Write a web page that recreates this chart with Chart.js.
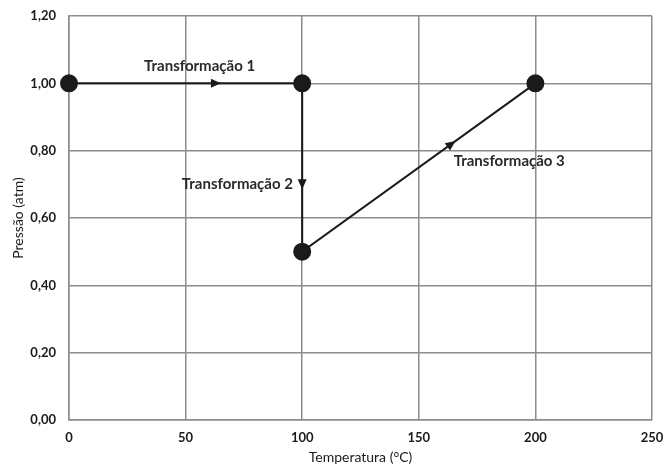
<!DOCTYPE html>
<html>
<head>
<meta charset="utf-8">
<script src="https://cdn.jsdelivr.net/npm/chart.js@4"></script>
<style>
  html, body { margin: 0; padding: 0; background: #fff; }
  #wrap { width: 664px; height: 466px; }
</style>
</head>
<body>
<div id="wrap"><canvas id="grafico"></canvas></div>
<script>
// dados
const temperaturas = [0, 100, 100, 200];
const pressoes = [1.00, 1.00, 0.50, 1.00];
const xTicks = [0, 50, 100, 150, 200, 250];
const yTicks = [0, 0.2, 0.4, 0.6, 0.8, 1.0, 1.2];
// posição da seta em cada trecho (fração do trecho)
const setas = [0.63, 0.6, 0.64];
const rotulos = ["Transformação 1", "Transformação 2", "Transformação 3"];
const rotuloX = [56, 96, 165];
const rotuloY = [1.05, 0.70, 0.77];

const pontos = temperaturas.map((t, i) => ({ x: t, y: pressoes[i] }));
const fonte = "Lato, 'Open Sans', sans-serif";

// desenha setas e textos usando as escalas do gráfico
const anotacoes = {
  id: "anotacoes",
  afterDatasetsDraw(chart) {
    const { ctx, scales: { x, y } } = chart;
    ctx.save();
    ctx.fillStyle = "#1a1a1a";
    for (let i = 0; i < setas.length; i++) {
      const a = pontos[i], b = pontos[i + 1];
      const x0 = x.getPixelForValue(a.x), y0 = y.getPixelForValue(a.y);
      const x1 = x.getPixelForValue(b.x), y1 = y.getPixelForValue(b.y);
      const px = x0 + (x1 - x0) * setas[i], py = y0 + (y1 - y0) * setas[i];
      const ang = Math.atan2(y1 - y0, x1 - x0);
      ctx.save();
      ctx.translate(px, py);
      ctx.rotate(ang);
      ctx.beginPath();
      ctx.moveTo(5, 0);
      ctx.lineTo(-5, -4.5);
      ctx.lineTo(-5, 4.5);
      ctx.closePath();
      ctx.fill();
      ctx.restore();
    }
    ctx.font = "bold 15px " + fonte;
    ctx.fillStyle = "#2a2a2a";
    ctx.textBaseline = "middle";
    const alinh = ["center", "right", "left"];
    rotulos.forEach((r, i) => {
      ctx.textAlign = alinh[i];
      ctx.fillText(r, x.getPixelForValue(rotuloX[i]), y.getPixelForValue(rotuloY[i]));
    });
    ctx.restore();
  }
};

const virgula = v => Number(v).toFixed(2).replace(".", ",");

new Chart(document.getElementById("grafico"), {
  type: "scatter",
  data: {
    datasets: [{
      data: pontos,
      showLine: true,
      borderColor: "#1a1a1a",
      borderWidth: 2,
      backgroundColor: "#1a1a1a",
      pointRadius: 8,
      pointHoverRadius: 8,
      clip: false
    }]
  },
  options: {
    responsive: true,
    maintainAspectRatio: false,
    animation: false,
    layout: { padding: { top: 16, right: 12, left: 0, bottom: 0 } },
    plugins: { legend: { display: false }, tooltip: { enabled: false } },
    scales: {
      x: {
        type: "linear",
        min: 0,
        max: 250,
        afterBuildTicks: s => { s.ticks = xTicks.map(v => ({ value: v })); },
        afterFit: s => { s.height = 46; s.paddingLeft = 0; s.paddingRight = 0; },
        grid: { color: "#8c8c8c", lineWidth: 1.5, drawTicks: false },
        border: { color: "#8c8c8c", width: 1.5 },
        ticks: { color: "#1a1a1a", font: { family: fonte, size: 13, weight: "bold" }, padding: 10 },
        title: { display: true, text: "Temperatura (°C)", color: "#1a1a1a", font: { family: fonte, size: 14 }, padding: { top: 0, bottom: 0 } }
      },
      y: {
        min: 0,
        max: 1.2,
        afterBuildTicks: s => { s.ticks = yTicks.map(v => ({ value: v })); },
        afterFit: s => { s.width = 69; s.paddingTop = 0; s.paddingBottom = 0; },
        grid: { color: "#8c8c8c", lineWidth: 1.5, drawTicks: false },
        border: { color: "#8c8c8c", width: 1.5 },
        ticks: { color: "#1a1a1a", font: { family: fonte, size: 13, weight: "bold" }, padding: 13, callback: v => virgula(v) },
        title: { display: true, text: "Pressão (atm)", color: "#1a1a1a", font: { family: fonte, size: 14 }, padding: { top: 10, bottom: 4 } }
      }
    }
  },
  plugins: [anotacoes]
});
</script>
</body>
</html>
